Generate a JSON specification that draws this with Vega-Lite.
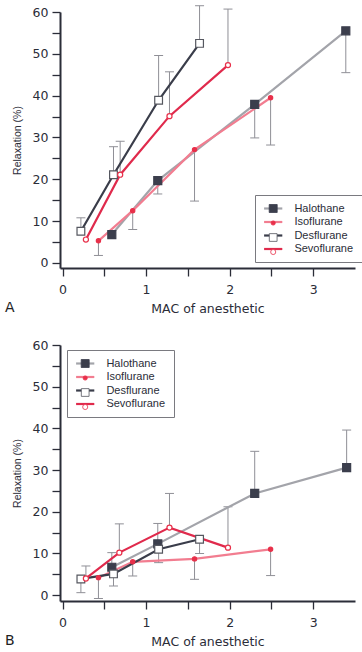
{
  "$schema": "https://vega.github.io/schema/vega-lite/v6.json",
  "background": "white",
  "padding": {"left": 5, "top": 5, "right": 2, "bottom": 2},
  "data": {"values": [
    {"panel": "A", "agent": "Halothane", "mac": 0.59, "relax": 6.8, "err": null},
    {"panel": "A", "agent": "Halothane", "mac": 1.14, "relax": 19.7, "err": 16.5},
    {"panel": "A", "agent": "Halothane", "mac": 2.30, "relax": 37.9, "err": 29.9},
    {"panel": "A", "agent": "Halothane", "mac": 3.39, "relax": 55.5, "err": 45.5},
    {"panel": "A", "agent": "Isoflurane", "mac": 0.43, "relax": 5.3, "err": 1.8},
    {"panel": "A", "agent": "Isoflurane", "mac": 0.84, "relax": 12.5, "err": 8.0},
    {"panel": "A", "agent": "Isoflurane", "mac": 1.58, "relax": 27.1, "err": 14.8},
    {"panel": "A", "agent": "Isoflurane", "mac": 2.49, "relax": 39.5, "err": 28.2},
    {"panel": "A", "agent": "Desflurane", "mac": 0.22, "relax": 7.6, "err": 10.8},
    {"panel": "A", "agent": "Desflurane", "mac": 0.61, "relax": 21.1, "err": 27.8},
    {"panel": "A", "agent": "Desflurane", "mac": 1.15, "relax": 38.9, "err": 49.6},
    {"panel": "A", "agent": "Desflurane", "mac": 1.64, "relax": 52.5, "err": 61.5},
    {"panel": "A", "agent": "Sevoflurane", "mac": 0.28, "relax": 5.6, "err": null},
    {"panel": "A", "agent": "Sevoflurane", "mac": 0.69, "relax": 21.1, "err": 29.1},
    {"panel": "A", "agent": "Sevoflurane", "mac": 1.28, "relax": 35.1, "err": 45.7},
    {"panel": "A", "agent": "Sevoflurane", "mac": 1.98, "relax": 47.3, "err": 60.7},
    {"panel": "B", "agent": "Halothane", "mac": 0.59, "relax": 6.7, "err": 10.2},
    {"panel": "B", "agent": "Halothane", "mac": 1.14, "relax": 12.3, "err": 17.2},
    {"panel": "B", "agent": "Halothane", "mac": 2.30, "relax": 24.4, "err": 34.5},
    {"panel": "B", "agent": "Halothane", "mac": 3.40, "relax": 30.6, "err": 39.6},
    {"panel": "B", "agent": "Isoflurane", "mac": 0.43, "relax": 4.2, "err": -0.8},
    {"panel": "B", "agent": "Isoflurane", "mac": 0.84, "relax": 8.0, "err": 4.6},
    {"panel": "B", "agent": "Isoflurane", "mac": 1.58, "relax": 8.7, "err": 3.8},
    {"panel": "B", "agent": "Isoflurane", "mac": 2.49, "relax": 11.0, "err": 4.7},
    {"panel": "B", "agent": "Desflurane", "mac": 0.22, "relax": 3.9, "err": 0.6},
    {"panel": "B", "agent": "Desflurane", "mac": 0.61, "relax": 5.1, "err": 2.2},
    {"panel": "B", "agent": "Desflurane", "mac": 1.15, "relax": 11.0, "err": 7.8},
    {"panel": "B", "agent": "Desflurane", "mac": 1.64, "relax": 13.4, "err": 10.0},
    {"panel": "B", "agent": "Sevoflurane", "mac": 0.28, "relax": 4.0, "err": 7.0},
    {"panel": "B", "agent": "Sevoflurane", "mac": 0.68, "relax": 10.2, "err": 17.1},
    {"panel": "B", "agent": "Sevoflurane", "mac": 1.28, "relax": 16.2, "err": 24.4},
    {"panel": "B", "agent": "Sevoflurane", "mac": 1.98, "relax": 11.4, "err": 21.2}
  ]},
  "spacing": 77,
  "bounds": "flush",
  "resolve": {
    "scale": {"x": "independent", "y": "independent", "color": "independent", "shape": "independent", "fill": "independent", "stroke": "independent", "size": "independent"},
    "legend": {"color": "independent", "shape": "independent", "fill": "independent", "stroke": "independent", "size": "independent"}
  },
  "vconcat": [
    {
      "width": 295, "height": 256,
      "transform": [{"filter": "datum.panel === 'A'"}],
      "title": {"text": "A", "orient": "bottom", "anchor": "start", "frame": "group", "font": "DejaVu Sans", "fontSize": 14, "fontWeight": "normal", "color": "#222", "dx": -55, "offset": -14},
      "encoding": {
        "x": {"field": "mac", "type": "quantitative", "scale": {"domain": [-0.03, 3.5], "nice": false, "zero": false},
              "axis": {"title": "MAC of anesthetic", "values": [0, 0.5, 1, 1.5, 2, 2.5, 3], "labelExpr": "datum.value % 1 === 0 ? '' + datum.value : ''", "labelPadding": 7, "titlePadding": 7}},
        "y": {"field": "relax", "type": "quantitative", "scale": {"domain": [-1.2, 60], "nice": false, "zero": false},
              "axis": {"title": "Relaxation (%)", "values": [0, 5, 10, 15, 20, 25, 30, 35, 40, 45, 50, 55, 60], "labelExpr": "datum.value % 10 === 0 ? '' + datum.value : ''", "labelPadding": 4, "titlePadding": 10, "titleFont": "Liberation Sans", "titleFontSize": 10.5}}
      },
      "layer": [
        {"transform": [{"filter": "datum.err != null"}], "mark": {"type": "rule", "color": "#8f8f96", "strokeWidth": 1}, "encoding": {"y2": {"field": "err"}}},
        {"transform": [{"filter": "datum.err != null"}], "mark": {"type": "tick", "orient": "horizontal", "color": "#8f8f96", "size": 9, "thickness": 1, "opacity": 1}, "encoding": {"y": {"field": "err", "type": "quantitative"}}},
        {"mark": {"type": "line", "strokeWidth": 2.2}, "encoding": {
          "color": {"field": "agent", "type": "nominal", "sort": ["Halothane", "Isoflurane", "Desflurane", "Sevoflurane"],
                    "scale": {"range": ["#a3a4aa", "#f27d90", "#3a3d4a", "#e02a4c"]},
                    "legend": {"title": null, "orient": "none", "legendX": 195, "legendY": 183, "padding": 8, "rowPadding": 1.5, "gridAlign": "all", "symbolType": "M-2.6,0H2.6", "symbolSize": 49, "symbolStrokeWidth": 2.2, "symbolOffset": 4.7, "labelOffset": 15.7, "strokeColor": "#7a7a80"}}
        }},
        {"mark": {"type": "point", "filled": true, "opacity": 1, "strokeWidth": 1.2}, "encoding": {
          "shape": {"field": "agent", "type": "nominal", "scale": {"domain": ["Halothane", "Isoflurane", "Desflurane", "Sevoflurane"], "range": ["square", "circle", "square", "circle"]},
                    "legend": {"title": null, "orient": "none", "legendX": 195, "legendY": 183, "padding": 8, "rowPadding": 1.5, "gridAlign": "all", "symbolOffset": 4.7, "labelOffset": 15.7, "labelExpr": "' '", "symbolOpacity": 1, "symbolStrokeWidth": 0.8}},
          "fill": {"field": "agent", "type": "nominal", "scale": {"domain": ["Halothane", "Isoflurane", "Desflurane", "Sevoflurane"], "range": ["#3b3e4c", "#e8304a", "#ffffff", "#ffffff"]}, "legend": {"title": null}},
          "stroke": {"field": "agent", "type": "nominal", "scale": {"domain": ["Halothane", "Isoflurane", "Desflurane", "Sevoflurane"], "range": ["#3b3e4c", "#e8304a", "#55575f", "#e8304a"]}, "legend": {"title": null}},
          "size": {"field": "agent", "type": "nominal", "scale": {"type": "ordinal", "domain": ["Halothane", "Isoflurane", "Desflurane", "Sevoflurane"], "range": [64, 18, 60, 26]}, "legend": {"title": null}}
        }}
      ]
    },
    {
      "width": 295, "height": 256,
      "transform": [{"filter": "datum.panel === 'B'"}],
      "title": {"text": "B", "orient": "bottom", "anchor": "start", "frame": "group", "font": "DejaVu Sans", "fontSize": 14, "fontWeight": "normal", "color": "#222", "dx": -55, "offset": -14},
      "encoding": {
        "x": {"field": "mac", "type": "quantitative", "scale": {"domain": [-0.03, 3.5], "nice": false, "zero": false},
              "axis": {"title": "MAC of anesthetic", "values": [0, 0.5, 1, 1.5, 2, 2.5, 3], "labelExpr": "datum.value % 1 === 0 ? '' + datum.value : ''", "labelPadding": 7, "titlePadding": 7}},
        "y": {"field": "relax", "type": "quantitative", "scale": {"domain": [-1.4, 60], "nice": false, "zero": false},
              "axis": {"title": "Relaxation (%)", "values": [0, 5, 10, 15, 20, 25, 30, 35, 40, 45, 50, 55, 60], "labelExpr": "datum.value % 10 === 0 ? '' + datum.value : ''", "labelPadding": 4, "titlePadding": 10, "titleFont": "Liberation Sans", "titleFontSize": 10.5}}
      },
      "layer": [
        {"transform": [{"filter": "datum.err != null"}], "mark": {"type": "rule", "color": "#8f8f96", "strokeWidth": 1}, "encoding": {"y2": {"field": "err"}}},
        {"transform": [{"filter": "datum.err != null"}], "mark": {"type": "tick", "orient": "horizontal", "color": "#8f8f96", "size": 9, "thickness": 1, "opacity": 1}, "encoding": {"y": {"field": "err", "type": "quantitative"}}},
        {"mark": {"type": "line", "strokeWidth": 2.2}, "encoding": {
          "color": {"field": "agent", "type": "nominal", "sort": ["Halothane", "Isoflurane", "Desflurane", "Sevoflurane"],
                    "scale": {"range": ["#a3a4aa", "#f27d90", "#3a3d4a", "#e02a4c"]},
                    "legend": {"title": null, "orient": "none", "legendX": 7, "legendY": 5, "padding": 8, "rowPadding": 1.5, "gridAlign": "all", "symbolType": "M-2.6,0H2.6", "symbolSize": 49, "symbolStrokeWidth": 2.2, "symbolOffset": 4.7, "labelOffset": 15.7, "strokeColor": "#7a7a80"}}
        }},
        {"mark": {"type": "point", "filled": true, "opacity": 1, "strokeWidth": 1.2}, "encoding": {
          "shape": {"field": "agent", "type": "nominal", "scale": {"domain": ["Halothane", "Isoflurane", "Desflurane", "Sevoflurane"], "range": ["square", "circle", "square", "circle"]},
                    "legend": {"title": null, "orient": "none", "legendX": 7, "legendY": 5, "padding": 8, "rowPadding": 1.5, "gridAlign": "all", "symbolOffset": 4.7, "labelOffset": 15.7, "labelExpr": "' '", "symbolOpacity": 1, "symbolStrokeWidth": 0.8}},
          "fill": {"field": "agent", "type": "nominal", "scale": {"domain": ["Halothane", "Isoflurane", "Desflurane", "Sevoflurane"], "range": ["#3b3e4c", "#e8304a", "#ffffff", "#ffffff"]}, "legend": {"title": null}},
          "stroke": {"field": "agent", "type": "nominal", "scale": {"domain": ["Halothane", "Isoflurane", "Desflurane", "Sevoflurane"], "range": ["#3b3e4c", "#e8304a", "#55575f", "#e8304a"]}, "legend": {"title": null}},
          "size": {"field": "agent", "type": "nominal", "scale": {"type": "ordinal", "domain": ["Halothane", "Isoflurane", "Desflurane", "Sevoflurane"], "range": [64, 18, 60, 26]}, "legend": {"title": null}}
        }}
      ]
    }
  ],
  "config": {
    "view": {"stroke": null},
    "axis": {"grid": false, "domainColor": "#2b2d38", "domainWidth": 2, "tickColor": "#2b2d38", "tickWidth": 1.3, "tickSize": 8,
             "labelFont": "DejaVu Sans", "labelFontSize": 12.5, "labelColor": "#2b2d38", "titleFont": "DejaVu Sans", "titleFontSize": 12.5, "titleFontWeight": "normal", "titleColor": "#2b2d38"},
    "legend": {"labelFont": "Liberation Sans", "labelFontSize": 11, "labelColor": "#2b2d38"}
  }
}
